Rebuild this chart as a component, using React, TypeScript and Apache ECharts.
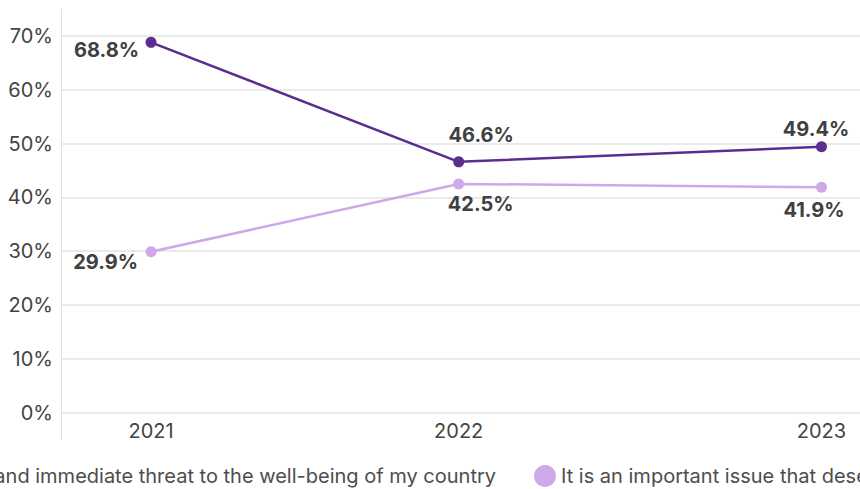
import { useEffect, useRef } from 'react';
import * as echarts from 'echarts';

// ---- data ----
const surveyDates = ['2021-05-15', '2022-04-15', '2023-05-15'];
const yearLabels = ['2021', '2022', '2023'];
const seriesNames = [
  'It is an urgent and immediate threat to the well-being of my country',
  'It is an important issue that deserves attention, but it is not urgent',
];
const urgentValues = [68.8, 46.6, 49.4];
const importantValues = [29.9, 42.5, 41.9];
const yTickValues = [0, 10, 20, 30, 40, 50, 60, 70];

const OFF = 300; // chart canvas extends beyond the visible frame on the left
const CHART_W = 1500;
const CHART_H = 489;
const FONT = 'Inter, "Noto Sans", sans-serif';
const FS = 20;
const DAY = 86400000;

export default function App() {
  const ref = useRef<HTMLDivElement>(null);

  useEffect(() => {
    if (!ref.current) return;
    const chart = echarts.init(ref.current, undefined, { renderer: 'svg' });
    const times = surveyDates.map((d) => new Date(d + 'T00:00:00Z').getTime());

    const urgentLabels = [
      { position: 'left', distance: 6.5, offset: [0, 8] },
      { position: 'inside', offset: [22.5, -27.2] },
      { position: 'inside', offset: [-5.5, -17.4] },
    ];
    const importantLabels = [
      { position: 'left', distance: 7.5, offset: [0, 10.3] },
      { position: 'inside', offset: [22, 20.2] },
      { position: 'inside', offset: [-7.5, 23] },
    ];

    const labelBase = {
      show: true,
      fontFamily: FONT,
      fontSize: FS,
      fontWeight: 'bold',
      color: '#404040',
      formatter: (p: any) => p.value[1].toFixed(1) + '%',
    };

    const build = (vals: number[], cfg: any[]) =>
      vals.map((v, i) => ({ value: [times[i], v], label: { ...labelBase, ...cfg[i] } }));

    const legendText = { fontFamily: FONT, fontSize: FS, color: '#4d4d4d' };

    const option: any = {
      animation: false,
      textStyle: { fontFamily: FONT },
      grid: {
        left: 61 + OFF,
        right: CHART_W - (911.5 + OFF),
        top: 9,
        bottom: CHART_H - 439.6,
        containLabel: false,
        outerBoundsMode: 'none',
      },
      legend: [
        {
          data: [seriesNames[0]],
          right: CHART_W - (496 + OFF),
          top: 465,
          padding: 0,
          icon: 'circle',
          itemWidth: 22,
          itemHeight: 22,
          textStyle: legendText,
        },
        {
          data: [seriesNames[1]],
          left: 534 + OFF,
          top: 465,
          padding: 0,
          icon: 'circle',
          itemWidth: 22,
          itemHeight: 22,
          textStyle: legendText,
        },
      ],
      xAxis: {
        type: 'value',
        min: times[0] - 98 * DAY,
        max: times[2] + 98 * DAY,
        axisLine: { show: false },
        axisTick: { show: false, customValues: times },
        splitLine: { show: false },
        axisLabel: {
          customValues: times,
          margin: -19,
          fontFamily: FONT,
          fontSize: FS,
          color: '#444',
          formatter: (v: number) => {
            const i = times.indexOf(v);
            return i >= 0 ? yearLabels[i] : '';
          },
        },
      },
      yAxis: {
        type: 'value',
        min: -5,
        max: 75,
        axisLine: { show: true, lineStyle: { color: '#e2e2e2', width: 1 } },
        axisTick: { show: false, customValues: yTickValues },
        axisLabel: {
          customValues: yTickValues,
          formatter: '{value}%',
          margin: 8,
          fontFamily: FONT,
          fontSize: FS,
          color: '#444',
        },
        splitLine: { show: true, lineStyle: { color: '#e3e3e3', width: 1.5 } },
      },
      series: [
        {
          name: seriesNames[0],
          type: 'line',
          symbol: 'circle',
          symbolSize: 11,
          color: '#5c2d91',
          lineStyle: { width: 2.5, color: '#5c2d91' },
          itemStyle: { color: '#5c2d91' },
          data: build(urgentValues, urgentLabels),
          z: 3,
        },
        {
          name: seriesNames[1],
          type: 'line',
          symbol: 'circle',
          symbolSize: 11,
          color: '#cfa8e8',
          lineStyle: { width: 2.5, color: '#cfa8e8' },
          itemStyle: { color: '#cfa8e8' },
          data: build(importantValues, importantLabels),
          z: 2,
        },
      ],
    };
    chart.setOption(option);
    return () => chart.dispose();
  }, []);

  return (
    <div
      style={{
        position: 'fixed',
        left: 0,
        top: 0,
        width: 860,
        height: 489,
        overflow: 'hidden',
        background: '#fff',
      }}
    >
      <div
        ref={ref}
        style={{ position: 'absolute', left: -OFF, top: 0, width: CHART_W, height: CHART_H }}
      />
    </div>
  );
}
